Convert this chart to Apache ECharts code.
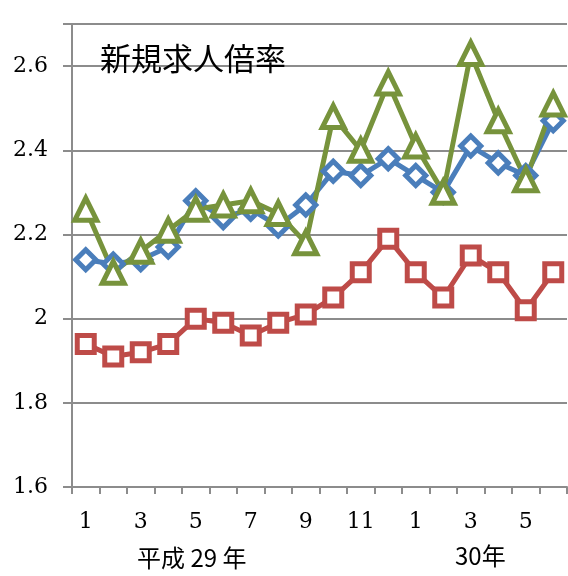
<!DOCTYPE html>
<html>
<head>
<meta charset="utf-8">
<script src="https://cdn.jsdelivr.net/npm/echarts@6/dist/echarts.min.js"></script>
<style>html,body{margin:0;padding:0;background:#fff;}#c{width:568px;height:576px;}</style>
</head>
<body>
<div id="c"></div>
<script>
var months = ['1','2','3','4','5','6','7','8','9','10','11','12','1','2','3','4','5','6'];
var seriesBlue = [2.14,2.13,2.14,2.17,2.28,2.24,2.26,2.22,2.27,2.35,2.34,2.38,2.34,2.30,2.41,2.37,2.34,2.47];
var seriesRed = [1.94,1.91,1.92,1.94,2.00,1.99,1.96,1.99,2.01,2.05,2.11,2.19,2.11,2.05,2.15,2.11,2.02,2.11];
var seriesGreen = [2.26,2.11,2.16,2.21,2.26,2.27,2.28,2.25,2.18,2.48,2.40,2.56,2.41,2.30,2.63,2.47,2.33,2.51];
var yearLabels = ['平成 29 年', '30年'];
var titleText = '新規求人倍率';

var chart = echarts.init(document.getElementById('c'));
var serif = 'DejaVu Serif';
var gray = '#8c8c8c';
function mk(name, data, color, symbol, size) {
  return {
    name: name, type: 'line', data: data,
    symbol: symbol, symbolSize: size, showAllSymbol: true,
    lineStyle: {color: color, width: 5},
    itemStyle: {color: '#fff', borderColor: color, borderWidth: 5},
    emphasis: {disabled: true},
    animation: false
  };
}
chart.setOption({
  animation: false,
  title: {text: titleText, left: 95, top: 38, textStyle: {fontFamily: 'Noto Sans CJK JP', fontSize: 31, fontWeight: 'normal', color: '#000'}},
  grid: {left: 72, right: 1, top: 24, bottom: 89},
  xAxis: {
    type: 'category', data: months, boundaryGap: true,
    axisLine: {lineStyle: {color: gray, width: 2}},
    axisTick: {show: true, interval: 0, length: 7, lineStyle: {color: gray, width: 2}},
    axisLabel: {interval: 1, margin: 24, fontFamily: serif, fontSize: 22, color: '#000'},
    splitLine: {show: false}
  },
  yAxis: {
    type: 'value', min: 1.6, max: 2.7, interval: 0.2,
    axisLine: {show: true, lineStyle: {color: gray, width: 2}},
    axisTick: {show: true, length: 9, lineStyle: {color: gray, width: 2}},
    axisLabel: {margin: 24, fontFamily: serif, fontSize: 22, color: '#000',
      formatter: function (v) { return Math.abs(v - 2.7) < 1e-6 ? '' : (+v.toFixed(1)).toString(); }},
    splitLine: {show: true, lineStyle: {color: gray, width: 2}}
  },
  graphic: [
    {type: 'text', left: 137, top: 546, style: {text: yearLabels[0], font: '24px "Noto Sans CJK JP"', fill: '#000'}},
    {type: 'text', left: 455, top: 544, style: {text: yearLabels[1], font: '24px "Noto Sans CJK JP"', fill: '#000'}}
  ],
  series: [
    mk('blue', seriesBlue, '#4a7ebb', 'diamond', 20),
    mk('red', seriesRed, '#be4b48', 'rect', 17),
    mk('green', seriesGreen, '#77933c', 'triangle', 22)
  ]
});
</script>
</body>
</html>
